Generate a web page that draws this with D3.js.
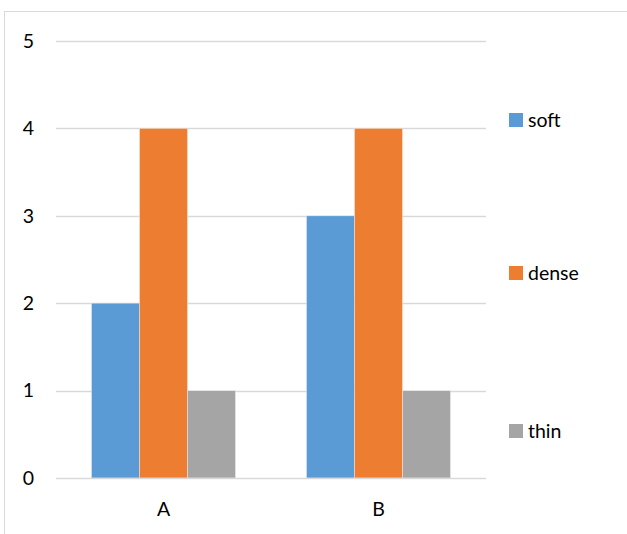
<!DOCTYPE html>
<html>
<head>
<meta charset="utf-8">
<script src="https://cdn.jsdelivr.net/npm/d3@7"></script>
<style>
  html, body { margin: 0; padding: 0; background: #fff; }
  svg { display: block; }
  text { font-family: Lato, "Open Sans", sans-serif; fill: #000; }
</style>
</head>
<body>
<svg id="chart" width="627" height="534"></svg>
<script>
// Chart data
const categories = ["A", "B"];
const seriesNames = ["soft", "dense", "thin"];
const soft = [2, 3];
const dense = [4, 4];
const thin = [1, 1];
const yTicks = [0, 1, 2, 3, 4, 5];
const colors = ["#5B9BD5", "#ED7D31", "#A5A5A5"];

const seriesValues = [soft, dense, thin];
const rows = categories.map((c, i) => ({
  category: c,
  values: seriesNames.map((s, j) => ({ series: s, value: seriesValues[j][i], idx: j }))
}));

const svg = d3.select("#chart");
const fontSize = 19.5;

// Outer chart frame
svg.append("rect")
  .attr("x", 4.5).attr("y", 11.5)
  .attr("width", 640).attr("height", 540)
  .attr("fill", "none").attr("stroke", "#D9D9D9").attr("stroke-width", 1);

const plot = { left: 56, right: 486, top: 41, bottom: 478 };

const x0 = d3.scaleBand().domain(categories)
  .range([plot.left, plot.right]).paddingInner(0.33).paddingOuter(0.165);
const x1 = d3.scaleBand().domain(seriesNames).range([0, x0.bandwidth()]);
const y = d3.scaleLinear().domain([0, 5]).range([plot.bottom, plot.top]);

// Horizontal gridlines
svg.append("g").selectAll("line").data(yTicks.filter(t => t > 0)).join("line")
  .attr("x1", plot.left).attr("x2", plot.right)
  .attr("y1", d => Math.round(y(d)) + 0.5).attr("y2", d => Math.round(y(d)) + 0.5)
  .attr("stroke", "#D9D9D9").attr("stroke-width", 1.3);

// Y axis labels
const yAxis = d3.axisLeft(y).tickValues(yTicks).tickSize(0).tickPadding(0).tickFormat(d3.format("d"));
const ya = svg.append("g").attr("transform", `translate(34,0)`).call(yAxis);
ya.select(".domain").remove();
ya.selectAll("text").attr("font-size", fontSize).attr("font-family", "Lato, 'Open Sans', sans-serif").attr("fill", "#000");

// Bars
const groups = svg.append("g").selectAll("g").data(rows).join("g")
  .attr("transform", d => `translate(${x0(d.category)},0)`);
groups.selectAll("rect").data(d => d.values).join("rect")
  .attr("x", d => x1(d.series))
  .attr("width", x1.bandwidth())
  .attr("y", d => y(d.value))
  .attr("height", d => y(0) - y(d.value))
  .attr("fill", d => colors[d.idx])
  .attr("stroke", "#fff").attr("stroke-opacity", 0.45).attr("stroke-width", 0.8);

// X axis baseline and category labels
const xAxis = d3.axisBottom(x0).tickSize(0).tickPadding(24);
const xa = svg.append("g").attr("transform", `translate(0,${plot.bottom})`).call(xAxis);
xa.select(".domain").attr("d", `M${plot.left},0.5H${plot.right}`).attr("stroke", "#D9D9D9").attr("stroke-width", 1.3);
xa.selectAll("text").attr("font-size", fontSize).attr("font-family", "Lato, 'Open Sans', sans-serif").attr("fill", "#000")
  .attr("dy", "0.32em").attr("y", 32);

// Legend
const legendY = [120, 273, 431];
const legend = svg.append("g").selectAll("g").data(seriesNames).join("g")
  .attr("transform", (d, i) => `translate(509,${legendY[i]})`);
legend.append("rect").attr("x", 0).attr("y", -7).attr("width", 14).attr("height", 14)
  .attr("fill", (d, i) => colors[i]);
legend.append("text").attr("x", 19).attr("dy", "0.35em")
  .attr("font-size", fontSize).text(d => d);
</script>
</body>
</html>
